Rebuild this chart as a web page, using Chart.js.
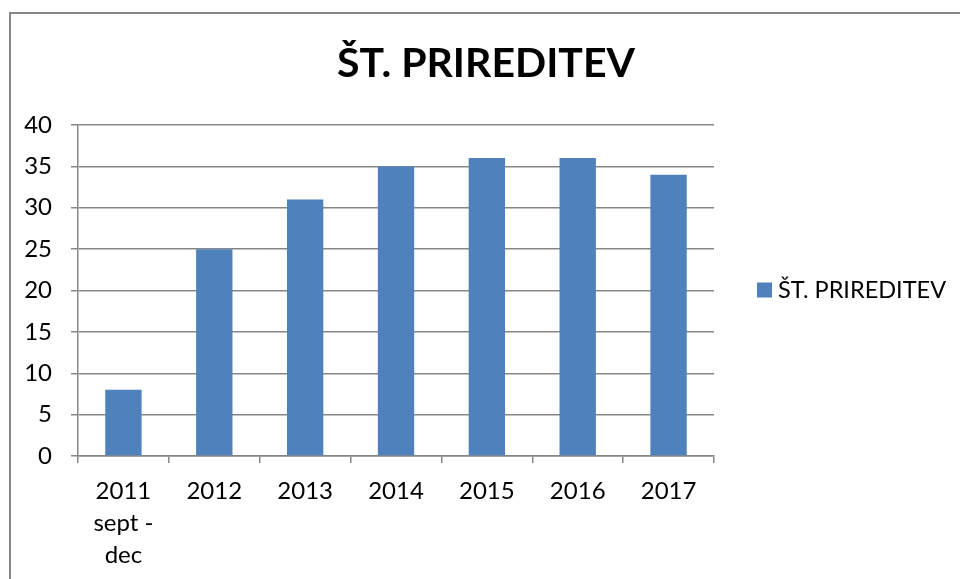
<!DOCTYPE html>
<html>
<head>
<meta charset="utf-8">
<script src="https://cdn.jsdelivr.net/npm/chart.js@4/dist/chart.umd.min.js"></script>
<style>
html,body{margin:0;padding:0;background:#fff;}
canvas{display:block;}
</style>
</head>
<body>
<canvas id="c" width="960" height="579"></canvas>
<script>
const chartTitle = 'ŠT. PRIREDITEV';
const seriesName = 'ŠT. PRIREDITEV';
const categories = [['2011', 'sept -', 'dec'], '2012', '2013', '2014', '2015', '2016', '2017'];
const values = [8, 25, 31, 35, 36, 36, 34];
const yTicks = { min: 0, max: 40, step: 5 };

const FONT = 'Lato, "Open Sans", sans-serif';
const GRID = '#878787';
const BAR = '#4F81BD';

const frameTitleLegend = {
  id: 'frameTitleLegend',
  afterDraw(chart) {
    const ctx = chart.ctx;
    ctx.save();
    ctx.strokeStyle = GRID;
    ctx.lineWidth = 2;
    ctx.strokeRect(10, 13, 1000, 1000);

    ctx.fillStyle = '#000';
    ctx.font = 'bold 41px ' + FONT;
    ctx.textAlign = 'center';
    ctx.textBaseline = 'alphabetic';
    ctx.fillText(chartTitle, 486, 77);

    const ds = chart.data.datasets[0];
    const x = chart.chartArea.right + 43;
    const y = (chart.chartArea.top + chart.chartArea.bottom) / 2;
    ctx.fillStyle = ds.backgroundColor;
    ctx.fillRect(x, y - 8, 15, 15);
    ctx.fillStyle = '#000';
    ctx.font = '23.5px ' + FONT;
    ctx.textBaseline = 'middle';
    ctx.textAlign = 'left';
    ctx.fillText(ds.label, x + 21, y);
    ctx.restore();
  }
};

new Chart(document.getElementById('c'), {
  type: 'bar',
  data: {
    labels: categories,
    datasets: [{
      label: seriesName,
      data: values,
      backgroundColor: BAR,
      borderWidth: 0,
      barPercentage: 0.4,
      categoryPercentage: 1.0
    }]
  },
  options: {
    responsive: false,
    animation: false,
    devicePixelRatio: 1,
    layout: { padding: { top: 125, left: 0, right: 246, bottom: 0 } },
    plugins: {
      legend: { display: false },
      tooltip: { enabled: false },
      title: { display: false }
    },
    scales: {
      x: {
        afterFit(s) { s.height = 123; },
        grid: { display: true, drawOnChartArea: false, drawTicks: true, tickLength: 7, color: GRID, lineWidth: 1.5, offset: true },
        border: { display: true, color: GRID, width: 1.5 },
        ticks: { color: '#000', font: { family: FONT, size: 24, lineHeight: 1.33 }, padding: 12, maxRotation: 0, autoSkip: false }
      },
      y: {
        min: yTicks.min,
        max: yTicks.max,
        afterFit(s) { s.width = 78; },
        grid: { display: true, drawTicks: true, tickLength: 7, color: GRID, lineWidth: 1.5 },
        border: { display: true, color: GRID, width: 1.5 },
        ticks: { stepSize: yTicks.step, color: '#000', font: { family: FONT, size: 24 }, padding: 19 }
      }
    }
  },
  plugins: [frameTitleLegend]
});
</script>
</body>
</html>
